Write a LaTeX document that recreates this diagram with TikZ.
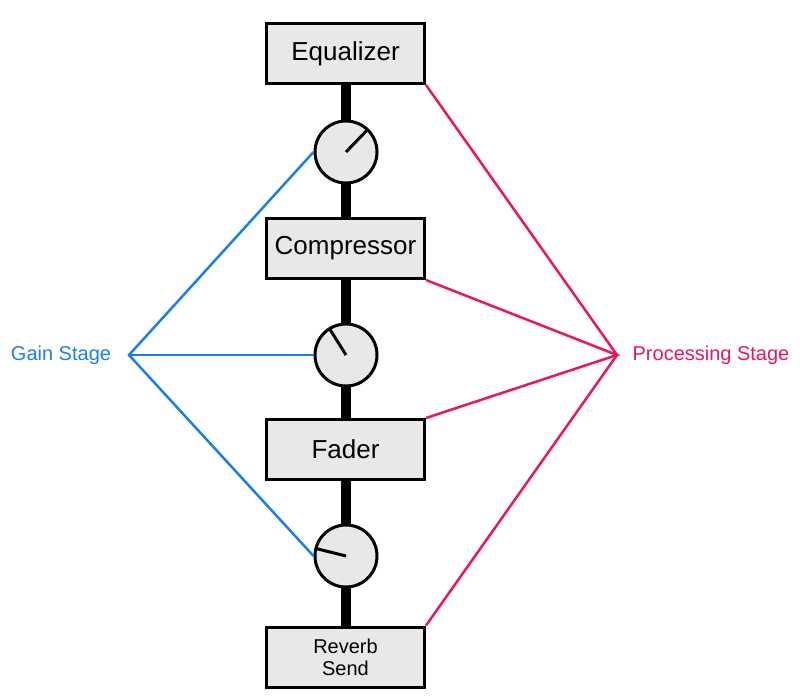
\documentclass[tikz,border=0pt]{standalone}
\usepackage{fontspec}
\setmainfont{Liberation Sans}
\definecolor{boxgray}{RGB}{232,232,232}
\definecolor{gainblue}{RGB}{26,128,232}
\definecolor{procpink}{RGB}{232,24,90}
\begin{document}
\begin{tikzpicture}[x=1pt,y=-1pt,
  box/.style={draw,line width=3pt,fill=boxgray,minimum width=158pt,minimum height=60pt,
    inner sep=0pt,align=center,font=\fontsize{26}{30}\selectfont},
  knob/.style={circle,draw,line width=3pt,fill=boxgray,minimum size=62pt,inner sep=0pt},
  gain/.style={gainblue,line width=2.5pt},
  proc/.style={procpink,line width=2.5pt}]
\useasboundingbox (0,0) rectangle (800,699);
% signal chain
\coordinate (top) at (346,85);
\coordinate (bot) at (346,626);
\draw[line width=10pt] (top) -- (bot);
\node[box] (eq) at (345.5,53.5) {Equalizer};
\node[box] (comp) at (345.5,248.5) {Compressor};
\node[box] (fader) at (345.5,449.5) {Fader};
\node[box,font=\fontsize{20}{22}\selectfont] (reverb) at (345.5,657) {Reverb\\Send};
\node[knob] (k1) at (346,152) {};
\node[knob] (k2) at (346,355) {};
\node[knob] (k3) at (346,556) {};
% pointers (y axis points down)
\draw[line width=3pt] (k1.center) -- +(-46:30);
\draw[line width=3pt] (k2.center) -- +(-122:31);
\draw[line width=3pt] (k3.center) -- +(-166:31);
% labels
\node[text=gainblue,font=\fontsize{20}{24}\selectfont] (gainlbl) at (61,355) {Gain Stage};
\node[text=procpink,font=\fontsize{20}{24}\selectfont] (proclbl) at (711,355) {Processing Stage};
\coordinate (ghub) at (129,355);
\coordinate (phub) at (617,355);
\draw[gain] (k1.west) -- (ghub) -- (k3.west);
\draw[gain] (ghub) -- (k2.west);
\draw[proc] (eq.south east) -- (phub) -- (reverb.north east);
\draw[proc] (comp.south east) -- (phub) -- (fader.north east);
\end{tikzpicture}
\end{document}
